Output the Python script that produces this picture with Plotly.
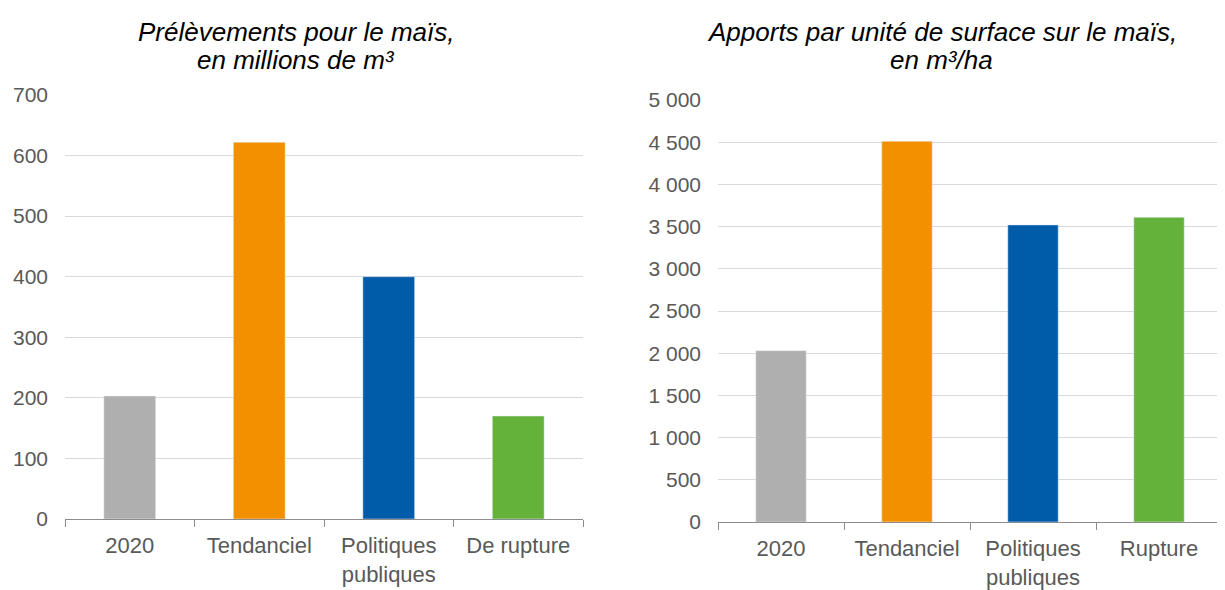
import plotly.graph_objects as go

cats_left = ["2020", "Tendanciel", "Politiques<br>publiques", "De rupture"]
vals_left = [203, 622, 400, 170]
cats_right = ["2020", "Tendanciel", "Politiques<br>publiques", "Rupture"]
vals_right = [2030, 4510, 3520, 3610]
colors = ["#afafaf", "#f39000", "#005ba8", "#64b23a"]
title_left = ["<i>Prélèvements pour le maïs,</i>", "<i>en millions de m³</i>"]
title_right = ["<i>Apports par unité de surface sur le maïs,</i>", "<i>en m³/ha</i>"]

# page body has an 8px margin; figure fills the remaining window
W, H, OFF = 1217, 582, 8
def px(x):
    return (x - OFF) / W
def py(y):
    return 1 - (y - OFF) / H

fig = go.Figure()
fig.add_trace(go.Bar(x=cats_left, y=vals_left, marker_color=colors, width=0.4,
                     xaxis="x", yaxis="y", showlegend=False))
fig.add_trace(go.Bar(x=cats_right, y=vals_right, marker_color=colors, width=0.4,
                     xaxis="x2", yaxis="y2", showlegend=False))

font = dict(family="Liberation Sans, Arial, sans-serif", size=21, color="#595959")
xcommon = dict(showline=True, linecolor="#8c8c8c", linewidth=1, ticks="outside",
               tickson="boundaries", ticklen=7, tickcolor="#8c8c8c", automargin=False,
               tickfont=dict(size=22, color="#595959"), showgrid=False, fixedrange=True,
               ticklabelstandoff=7)
ycommon = dict(showline=False, showgrid=True, gridcolor="#d9d9d9", gridwidth=1,
               zeroline=False, tickfont=dict(size=21, color="#595959"), ticks="",
               ticklabelstandoff=16, automargin=False, fixedrange=True)

annots = []
for (lines, cx) in [(title_left, 296), (title_right, 942)]:
    for txt, cy in zip(lines, [32, 60]):
        annots.append(dict(text=txt, x=px(cx), y=py(cy), xref="paper", yref="paper",
                           xanchor="center", yanchor="middle", showarrow=False,
                           font=dict(size=26, color="#000000")))

fig.update_layout(
    width=W, height=H, autosize=False,
    margin=dict(l=0, r=0, t=0, b=0, pad=0),
    paper_bgcolor="white", plot_bgcolor="white",
    font=font,
    separators=", ",
    xaxis=dict(domain=[px(65), px(583)], anchor="y", **xcommon),
    yaxis=dict(domain=[py(519), py(95)], anchor="x", range=[0, 700],
               dtick=100, **ycommon),
    xaxis2=dict(domain=[px(718), px(1222)], anchor="y2", **xcommon),
    yaxis2=dict(domain=[py(522), py(100)], anchor="x2", range=[0, 5000],
                dtick=500, tickformat=",d", **ycommon),
    annotations=annots,
)

fig.write_html("out.html")
